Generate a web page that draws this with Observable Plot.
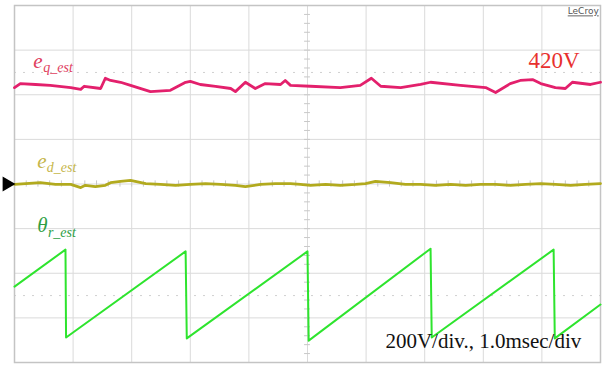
<!DOCTYPE html>
<html>
<head>
<meta charset="utf-8">
<script src="https://cdn.jsdelivr.net/npm/d3@7"></script>
<script src="https://cdn.jsdelivr.net/npm/@observablehq/plot@0.6"></script>
<style>
  html, body { margin: 0; padding: 0; background: #fff; }
</style>
</head>
<body>
<div id="chart"></div>
<script>
// Time axis in ms (1.0 ms/div, 10 divisions); vertical values in divisions (200 V/div)
const eqTime = [0,0.10,0.36,0.61,0.96,1.13,1.19,1.47,1.55,1.64,1.81,1.98,2.32,2.66,2.92,3.00,3.17,3.43,3.69,3.77,3.94,4.11,4.28,4.54,4.62,4.71,5.05,5.56,5.90,6.09,6.25,6.59,6.93,7.10,7.61,8.04,8.21,8.46,8.63,8.84,8.98,9.23,9.40,9.52,9.83,10.0];
const eqDiv  = [2.16,2.25,2.23,2.21,2.16,2.12,2.19,2.14,2.37,2.32,2.28,2.21,2.07,2.10,2.28,2.30,2.23,2.19,2.14,2.07,2.28,2.14,2.25,2.23,2.32,2.21,2.19,2.16,2.21,2.37,2.19,2.16,2.23,2.28,2.21,2.16,2.05,2.25,2.32,2.34,2.25,2.16,2.14,2.28,2.23,2.28];

const edTime = [0,0.19,0.44,0.70,0.96,1.13,1.21,1.38,1.55,1.64,1.81,1.98,2.24,2.49,2.75,3.00,3.26,3.52,3.77,3.94,4.20,4.45,4.71,4.88,5.05,5.31,5.56,5.82,5.99,6.16,6.42,6.67,6.93,7.18,7.44,7.70,7.95,8.21,8.46,8.72,8.98,9.23,9.49,9.74,10.0];
const edDiv  = [-0.01,0.01,0.03,-0.01,-0.01,-0.08,-0.03,-0.06,-0.03,0.03,0.06,0.08,0.01,-0.01,-0.03,-0.01,0.01,-0.01,-0.03,-0.06,-0.01,0.01,0.01,-0.01,-0.03,-0.01,-0.03,-0.01,0.01,0.06,0.03,-0.01,-0.01,-0.03,-0.01,-0.03,-0.01,-0.01,-0.03,-0.01,0.01,-0.01,-0.03,-0.01,0.01];

const thTime = [0,0.87,0.88,2.92,2.94,5.00,5.02,7.10,7.12,9.20,9.22,10.0];
const thDiv  = [-2.30,-1.47,-3.44,-1.51,-3.46,-1.51,-3.51,-1.45,-3.44,-1.47,-3.46,-2.70];

const traceNames = ["e", "e", "θ"];
const traceSubs = ["q_est", "d_est", "r_est"];
const levelText = ["420V"];
const scaleText = ["200V/div., 1.0msec/div"];
const brandText = ["LeCroy"];

const eq = eqTime.map((t, i) => ({t, v: eqDiv[i]}));
const ed = edTime.map((t, i) => ({t, v: edDiv[i]}));
const th = thTime.map((t, i) => ({t, v: thDiv[i]}));

const serif = "'Liberation Serif', 'Times New Roman', serif";
const gridColor = "#dadada";

const chart = Plot.plot({
  width: 605,
  height: 367,
  marginLeft: 14,
  marginRight: 5,
  marginTop: 5,
  marginBottom: 5,
  x: {domain: [0, 10], axis: null},
  y: {domain: [-4, 4], axis: null},
  style: {background: "white", fontFamily: serif, overflow: "visible"},
  marks: [
    Plot.ruleX(d3.range(1, 10), {stroke: gridColor, strokeWidth: 1}),
    Plot.ruleY(d3.range(-3, 4), {stroke: gridColor, strokeWidth: 1}),
    Plot.ruleY([2.5, -2.5], {stroke: "#d0d0d0", strokeDasharray: "2,7", strokeWidth: 1}),
    // center axis minor ticks
    Plot.ruleY(d3.range(-4, 4.01, 0.2), {x1: 4.95, x2: 5.05, stroke: "#c8c8c8"}),
    Plot.ruleX(d3.range(0, 10.01, 0.2), {y1: -0.07, y2: 0.07, stroke: "#c8c8c8"}),
    Plot.frame({stroke: "#c4c4c4", strokeWidth: 1.5}),
    // traces
    Plot.line(eq, {x: "t", y: "v", stroke: "#e3206c", strokeWidth: 2.8}),
    Plot.line(ed, {x: "t", y: "v", stroke: "#b2aa1e", strokeWidth: 2.8}),
    Plot.line(th, {x: "t", y: "v", stroke: "#2ee42e", strokeWidth: 2}),
    // ground marker
    Plot.dot([0], {x: -0.13, y: 0, symbol: "triangle", rotate: 90, r: 5.5, fill: "black", stroke: "none"}),
    // trace labels
    Plot.text([traceNames[0]], {x: 0.32, y: 2.61, text: d => d, fill: "#e0405e", fontSize: 21, fontStyle: "italic", textAnchor: "start", lineAnchor: "bottom"}),
    Plot.text([traceSubs[0]], {x: 0.49, y: 2.52, text: d => d, fill: "#e0405e", fontSize: 14, fontStyle: "italic", textAnchor: "start", lineAnchor: "bottom"}),
    Plot.text([traceNames[1]], {x: 0.39, y: 0.35, text: d => d, fill: "#c6b64a", fontSize: 21, fontStyle: "italic", textAnchor: "start", lineAnchor: "bottom"}),
    Plot.text([traceSubs[1]], {x: 0.55, y: 0.26, text: d => d, fill: "#c6b64a", fontSize: 14, fontStyle: "italic", textAnchor: "start", lineAnchor: "bottom"}),
    Plot.text([traceNames[2]], {x: 0.39, y: -1.07, text: d => d, fill: "#2e9e44", fontSize: 21, fontStyle: "italic", textAnchor: "start", lineAnchor: "bottom"}),
    Plot.text([traceSubs[2]], {x: 0.57, y: -1.18, text: d => d, fill: "#2e9e44", fontSize: 14, fontStyle: "italic", textAnchor: "start", lineAnchor: "bottom"}),
    Plot.text(levelText, {x: 8.77, y: 2.61, text: d => d, fill: "#e8302e", fontSize: 23, textAnchor: "start", lineAnchor: "bottom"}),
    Plot.text(scaleText, {x: 6.33, y: -3.67, text: d => d, fill: "#111", fontSize: 21, textAnchor: "start", lineAnchor: "bottom"}),
    Plot.text(brandText, {x: 9.97, y: 3.80, text: d => d, fill: "#555", fontSize: 9, fontFamily: "'DejaVu Sans', sans-serif", textAnchor: "end", lineAnchor: "bottom"})
  ]
});

d3.select(chart).selectAll("text").filter(function() { return this.textContent === "LeCroy"; })
  .style("text-decoration", "underline");

document.getElementById("chart").appendChild(chart);
</script>
</body>
</html>
